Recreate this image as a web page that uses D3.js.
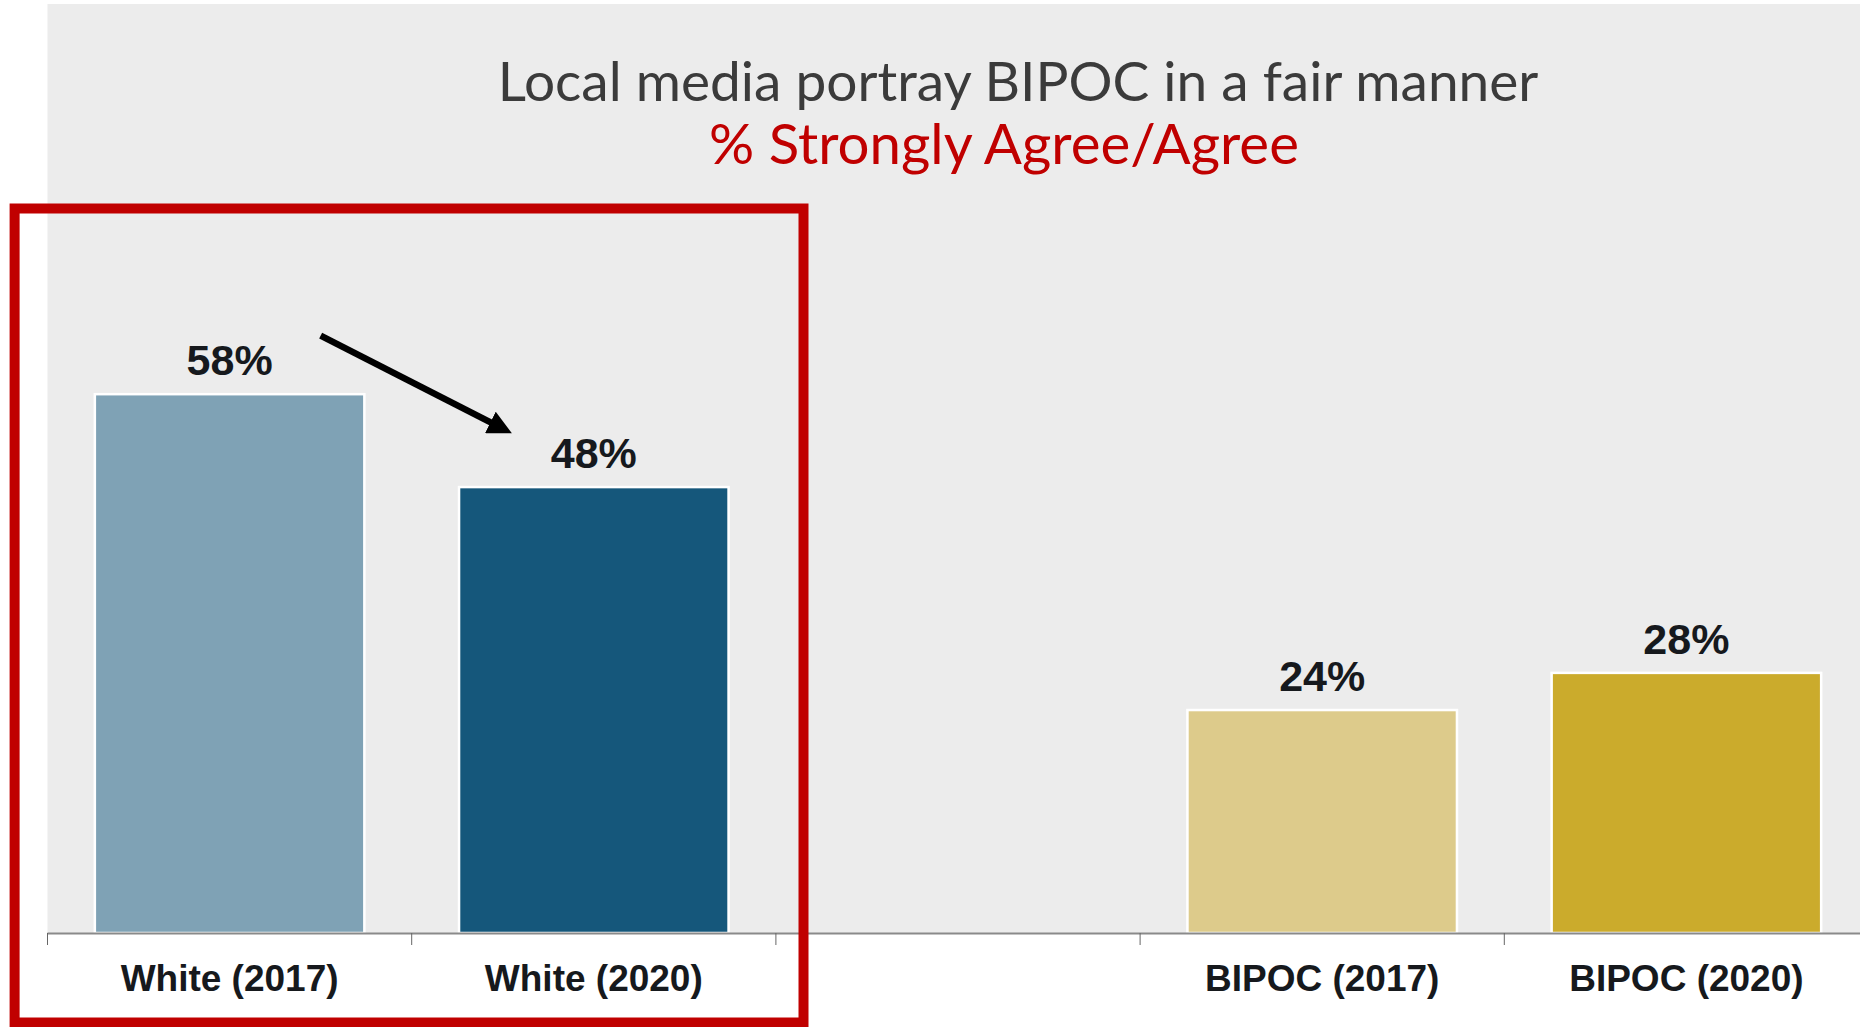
<!DOCTYPE html>
<html>
<head>
<meta charset="utf-8">
<script src="https://cdn.jsdelivr.net/npm/d3@7"></script>
<style>
  html, body { margin: 0; padding: 0; background: #ffffff; }
  svg { display: block; }
</style>
</head>
<body>
<svg id="chart" width="1860" height="1027"></svg>
<script>
// ---- data ----
const categories = ["White (2017)", "White (2020)", "", "BIPOC (2017)", "BIPOC (2020)"];
const values = [58, 48, null, 24, 28];
const valueLabels = ["58%", "48%", "", "24%", "28%"];
const barColors = ["#7fa2b5", "#15577b", "none", "#ddcb8b", "#cbab2c"];
const titleText = "Local media portray BIPOC in a fair manner";
const subtitleText = "% Strongly Agree/Agree";

// ---- layout ----
const W = 1860, H = 1027;
const plot = { left: 47.5, top: 4, bottom: 933, step: 364.2 };
const svg = d3.select("#chart");

const keys = categories.map((c, i) => i);
const x = d3.scaleBand()
  .domain(keys)
  .range([plot.left, plot.left + plot.step * categories.length])
  .padding(0);
const y = d3.scaleLinear().domain([0, 100]).range([plot.bottom, plot.top]);

// plot background
svg.append("rect")
  .attr("x", plot.left).attr("y", plot.top)
  .attr("width", W - plot.left).attr("height", plot.bottom - plot.top)
  .attr("fill", "#ececec");

// title
const title = svg.append("text")
  .attr("x", 1018).attr("y", 101)
  .attr("text-anchor", "middle")
  .attr("font-family", "Lato, 'Open Sans', sans-serif")
  .attr("font-size", 52)
  .attr("fill", "#3b3b3b")
  .text(titleText);
const sub = svg.append("text")
  .attr("x", 1004).attr("y", 164)
  .attr("text-anchor", "middle")
  .attr("font-family", "Lato, 'Open Sans', sans-serif")
  .attr("font-size", 52)
  .attr("fill", "#c00000")
  .text(subtitleText);
// fit widths to reference
function fitWidth(sel, target) {
  const w = sel.node().getComputedTextLength();
  const fs = +sel.attr("font-size");
  sel.attr("font-size", fs * target / w);
}
fitWidth(title, 1041);
fitWidth(sub, 590);

// bars
const barW = x.bandwidth() * 0.74;
const data = keys.map(i => ({ i, cat: categories[i], v: values[i], lab: valueLabels[i], color: barColors[i] }))
  .filter(d => d.v != null);

svg.append("g").selectAll("rect")
  .data(data)
  .join("rect")
  .attr("x", d => x(d.i) + (x.bandwidth() - barW) / 2)
  .attr("y", d => y(d.v))
  .attr("width", barW)
  .attr("height", d => y(0) - y(d.v))
  .attr("fill", d => d.color)
  .attr("stroke", "#ffffff")
  .attr("stroke-width", 2.5);

// value labels
svg.append("g").selectAll("text")
  .data(data)
  .join("text")
  .attr("x", d => x(d.i) + x.bandwidth() / 2)
  .attr("y", d => y(d.v) - 19)
  .attr("text-anchor", "middle")
  .attr("font-family", "'Liberation Sans', Arial, sans-serif")
  .attr("font-weight", "bold")
  .attr("font-size", 43)
  .attr("fill", "#16191d")
  .text(d => d.lab);

// x axis: line + boundary ticks
const axisG = svg.append("g");
axisG.append("line")
  .attr("x1", plot.left).attr("x2", W)
  .attr("y1", y(0) + 0.5).attr("y2", y(0) + 0.5)
  .attr("stroke", "#8a8a8a").attr("stroke-width", 2);
const boundaries = d3.range(categories.length + 1).map(i => plot.left + i * x.step());
axisG.selectAll("line.tick")
  .data(boundaries)
  .join("line")
  .attr("class", "tick")
  .attr("x1", d => d).attr("x2", d => d)
  .attr("y1", y(0)).attr("y2", y(0) + 12)
  .attr("stroke", "#666").attr("stroke-width", 1);
axisG.selectAll("text")
  .data(keys.filter(i => categories[i] !== ""))
  .join("text")
  .attr("x", i => x(i) + x.bandwidth() / 2)
  .attr("y", 991)
  .attr("text-anchor", "middle")
  .attr("font-family", "'Liberation Sans', Arial, sans-serif")
  .attr("font-weight", "bold")
  .attr("font-size", 37)
  .attr("fill", "#16191d")
  .text(i => categories[i]);

// arrow annotation (from White 2017 toward White 2020)
const defs = svg.append("defs");
defs.append("marker")
  .attr("id", "ah")
  .attr("viewBox", "0 0 10 10")
  .attr("refX", 10).attr("refY", 5)
  .attr("markerWidth", 3.7).attr("markerHeight", 3.7)
  .attr("markerUnits", "strokeWidth")
  .attr("orient", "auto")
  .append("path")
  .attr("d", "M0,0 L10,5 L0,10 Z")
  .attr("fill", "#000");
const ax1 = x(0) + x.bandwidth() * 0.75, ay1 = y(64.3);
const ax2 = x(1) + x.bandwidth() * 0.275, ay2 = y(53.8);
svg.append("line")
  .attr("x1", ax1).attr("y1", ay1)
  .attr("x2", ax2 - 8).attr("y2", ay2 - 4)
  .attr("stroke", "#000").attr("stroke-width", 6.5);
svg.append("line")
  .attr("x1", ax2 - 12).attr("y1", ay2 - 6)
  .attr("x2", ax2).attr("y2", ay2)
  .attr("stroke", "#000").attr("stroke-width", 6.5)
  .attr("stroke-opacity", 0)
  .attr("marker-end", "url(#ah)");

// highlight box
svg.append("rect")
  .attr("x", 14.6).attr("y", 208.5)
  .attr("width", 803.5 - 14.6).attr("height", 1022.5 - 208.5)
  .attr("fill", "none")
  .attr("stroke", "#c00000")
  .attr("stroke-width", 10);
</script>
</body>
</html>
